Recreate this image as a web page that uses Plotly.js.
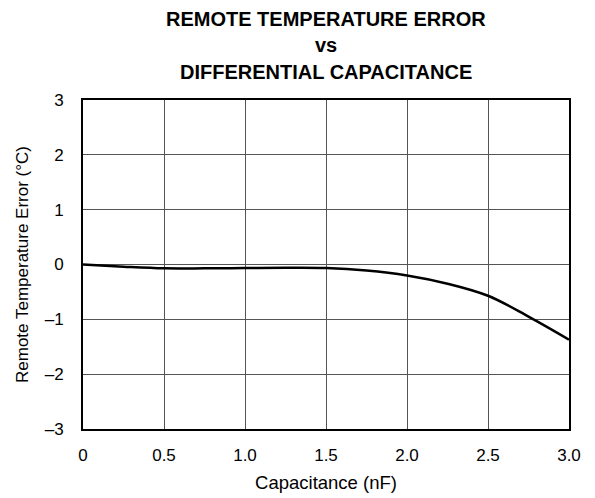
<!DOCTYPE html>
<html><head><meta charset="utf-8">
<script src="https://cdn.plot.ly/plotly-3.0.1.min.js"></script>
<style>html,body{margin:0;padding:0;background:#fff}</style>
</head><body><div id="chart" style="width:595px;height:498px"></div>
<script>
const capacitance = [0, 0.25, 0.5, 0.75, 1.0, 1.25, 1.5, 1.75, 2.0, 2.25, 2.5, 2.75, 3.0];
const tempError = [0, -0.04, -0.07, -0.07, -0.065, -0.06, -0.065, -0.11, -0.2, -0.35, -0.57, -0.95, -1.37];
const xTickVals = [0, 0.5, 1.0, 1.5, 2.0, 2.5, 3.0];
const xTickText = ['0', '0.5', '1.0', '1.5', '2.0', '2.5', '3.0'];
const yTickVals = [-3, -2, -1, 0, 1, 2, 3];
const yTickText = ['–3', '–2', '–1', '0', '1', '2', '3'];
const titleLines = ['REMOTE TEMPERATURE ERROR', 'vs', 'DIFFERENTIAL CAPACITANCE'];

const font = {family: 'Liberation Sans, Arial, sans-serif', color: '#000'};
const titleY = [1.2477, 1.1657, 1.0836];
Plotly.newPlot('chart', [{
  x: capacitance, y: tempError, type: 'scatter', mode: 'lines',
  line: {color: '#000', width: 2.5, shape: 'spline', smoothing: 1}
}], {
  width: 595, height: 498,
  margin: {l: 83, r: 26, t: 100, b: 69},
  paper_bgcolor: '#fff', plot_bgcolor: '#fff',
  showlegend: false,
  font: Object.assign({size: 17}, font),
  xaxis: {
    range: [0, 3], tickvals: xTickVals, ticktext: xTickText,
    showgrid: true, gridcolor: '#555', gridwidth: 1, zeroline: false,
    showline: true, mirror: true, linecolor: '#000', linewidth: 2,
    ticks: '', ticklabelstandoff: 10,
    tickfont: Object.assign({size: 17}, font),
    title: {text: 'Capacitance (nF)', font: Object.assign({size: 18.5}, font), standoff: 12}
  },
  yaxis: {
    range: [-3, 3], tickvals: yTickVals, ticktext: yTickText,
    showgrid: true, gridcolor: '#555', gridwidth: 1, zeroline: false,
    showline: true, mirror: true, linecolor: '#000', linewidth: 2,
    ticks: '', ticklabelstandoff: 14,
    tickfont: Object.assign({size: 17}, font),
    title: {text: 'Remote Temperature Error (°C)', font: Object.assign({size: 17}, font), standoff: 12}
  },
  annotations: titleLines.map((t, i) => ({
    text: '<b>' + t + '</b>', xref: 'paper', yref: 'paper', x: 0.5, y: titleY[i],
    xanchor: 'center', yanchor: 'middle', showarrow: false,
    font: Object.assign({size: 20}, font)
  }))
}, {displayModeBar: false, staticPlot: true});
</script></body></html>
